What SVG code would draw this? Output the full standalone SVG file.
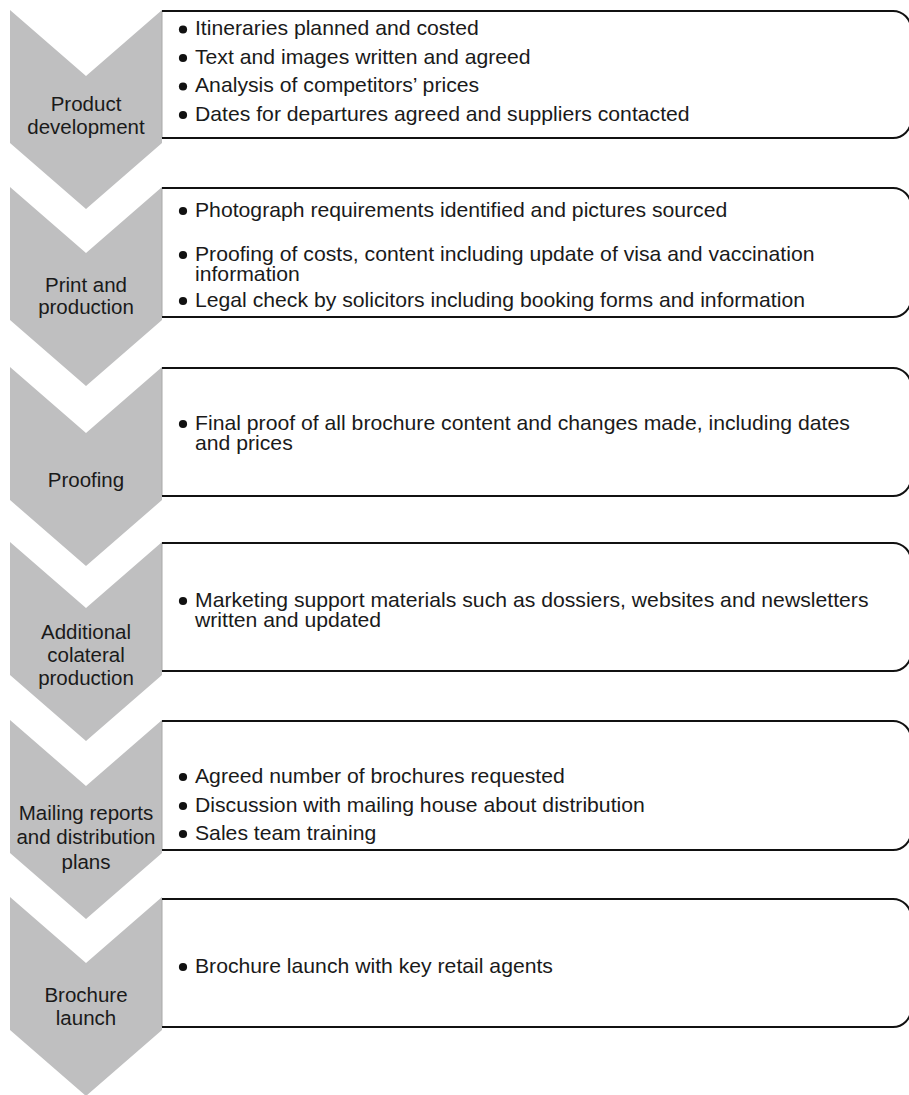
<svg xmlns="http://www.w3.org/2000/svg" width="909" height="1095" viewBox="0 0 909 1095">
  <defs>
    <style>
      .chev { fill: #bfbfc0; }
      .edge { fill: none; stroke: #111; stroke-width: 2; }
      .side { stroke: #a8a8a8; stroke-width: 1; }
      .dot { fill: #111; }
      .lbl { font-family: "Liberation Sans", Arial, sans-serif; font-size: 20.5px; fill: #1a1a1a; text-anchor: middle; }
      .item { font-family: "Liberation Sans", Arial, sans-serif; font-size: 20px; fill: #1a1a1a; }
    </style>
    <!-- chevron: 152 wide, 199 tall, notch/point depth 66 -->
    <polygon id="chevron" points="10,0 86,66 162,0 162,133 86,199 10,133"/>
    <!-- list bullet -->
    <circle id="bullet" r="4.1"/>
  </defs>

  <!-- step 1 -->
  <g id="step-product-development">
    <use href="#chevron" class="chev" y="10"/>
    <text class="lbl"><tspan x="86" y="111">Product</tspan><tspan x="86" y="134">development</tspan></text>
  </g>
  <g id="box-product-development">
    <line class="side" x1="162" y1="11" x2="162" y2="138"/>
    <path class="edge" d="M162,11 H893 A18,18 0 0 1 911,29 V120 A18,18 0 0 1 893,138 H162"/>
    <use href="#bullet" class="dot" x="183" y="29.5"/>
    <use href="#bullet" class="dot" x="183" y="58"/>
    <use href="#bullet" class="dot" x="183" y="86.5"/>
    <use href="#bullet" class="dot" x="183" y="115"/>
    <g transform="matrix(1.06 0 0 1 -11.7 0)">
      <text class="item" x="195" y="35.5">Itineraries planned and costed</text>
      <text class="item" x="195" y="64">Text and images written and agreed</text>
      <text class="item" x="195" y="92.5">Analysis of competitors’ prices</text>
      <text class="item" x="195" y="121">Dates for departures agreed and suppliers contacted</text>
    </g>
  </g>

  <!-- step 2 -->
  <g id="step-print-production">
    <use href="#chevron" class="chev" y="187"/>
    <text class="lbl"><tspan x="86" y="292">Print and</tspan><tspan x="86" y="314">production</tspan></text>
  </g>
  <g id="box-print-production">
    <line class="side" x1="162" y1="188" x2="162" y2="317"/>
    <path class="edge" d="M162,188 H893 A18,18 0 0 1 911,206 V299 A18,18 0 0 1 893,317 H162"/>
    <use href="#bullet" class="dot" x="183" y="211"/>
    <use href="#bullet" class="dot" x="183" y="255"/>
    <use href="#bullet" class="dot" x="183" y="301"/>
    <g transform="matrix(1.06 0 0 1 -11.7 0)">
      <text class="item" x="195" y="217">Photograph requirements identified and pictures sourced</text>
      <text class="item"><tspan x="195" y="261">Proofing of costs, content including update of visa and vaccination</tspan><tspan x="195" y="281">information</tspan></text>
      <text class="item" x="195" y="307">Legal check by solicitors including booking forms and information</text>
    </g>
  </g>

  <!-- step 3 -->
  <g id="step-proofing">
    <use href="#chevron" class="chev" y="367"/>
    <text class="lbl" x="86" y="487">Proofing</text>
  </g>
  <g id="box-proofing">
    <line class="side" x1="162" y1="368" x2="162" y2="496"/>
    <path class="edge" d="M162,368 H893 A18,18 0 0 1 911,386 V478 A18,18 0 0 1 893,496 H162"/>
    <use href="#bullet" class="dot" x="183" y="424"/>
    <g transform="matrix(1.06 0 0 1 -11.7 0)">
      <text class="item"><tspan x="195" y="430">Final proof of all brochure content and changes made, including dates</tspan><tspan x="195" y="450">and prices</tspan></text>
    </g>
  </g>

  <!-- step 4 -->
  <g id="step-collateral">
    <use href="#chevron" class="chev" y="542"/>
    <text class="lbl"><tspan x="86" y="639">Additional</tspan><tspan x="86" y="662">colateral</tspan><tspan x="86" y="684.5">production</tspan></text>
  </g>
  <g id="box-collateral">
    <line class="side" x1="162" y1="543" x2="162" y2="671"/>
    <path class="edge" d="M162,543 H893 A18,18 0 0 1 911,561 V653 A18,18 0 0 1 893,671 H162"/>
    <use href="#bullet" class="dot" x="183" y="601"/>
    <g transform="matrix(1.06 0 0 1 -11.7 0)">
      <text class="item"><tspan x="195" y="607">Marketing support materials such as dossiers, websites and newsletters</tspan><tspan x="195" y="627">written and updated</tspan></text>
    </g>
  </g>

  <!-- step 5 -->
  <g id="step-mailing">
    <use href="#chevron" class="chev" y="720"/>
    <text class="lbl"><tspan x="86" y="820">Mailing reports</tspan><tspan x="86" y="844">and distribution</tspan><tspan x="86" y="868.5">plans</tspan></text>
  </g>
  <g id="box-mailing">
    <line class="side" x1="162" y1="721" x2="162" y2="850"/>
    <path class="edge" d="M162,721 H893 A18,18 0 0 1 911,739 V832 A18,18 0 0 1 893,850 H162"/>
    <use href="#bullet" class="dot" x="183" y="777"/>
    <use href="#bullet" class="dot" x="183" y="806"/>
    <use href="#bullet" class="dot" x="183" y="834"/>
    <g transform="matrix(1.06 0 0 1 -11.7 0)">
      <text class="item" x="195" y="783">Agreed number of brochures requested</text>
      <text class="item" x="195" y="812">Discussion with mailing house about distribution</text>
      <text class="item" x="195" y="840">Sales team training</text>
    </g>
  </g>

  <!-- step 6 -->
  <g id="step-launch">
    <use href="#chevron" class="chev" y="897"/>
    <text class="lbl"><tspan x="86" y="1002">Brochure</tspan><tspan x="86" y="1025">launch</tspan></text>
  </g>
  <g id="box-launch">
    <line class="side" x1="162" y1="899" x2="162" y2="1027"/>
    <path class="edge" d="M162,899 H893 A18,18 0 0 1 911,917 V1009 A18,18 0 0 1 893,1027 H162"/>
    <use href="#bullet" class="dot" x="183" y="967"/>
    <g transform="matrix(1.06 0 0 1 -11.7 0)">
      <text class="item" x="195" y="973">Brochure launch with key retail agents</text>
    </g>
  </g>

  <!-- the steps follow one another top to bottom; the chevrons carry the flow -->
  <g id="connectors"/>
</svg>
